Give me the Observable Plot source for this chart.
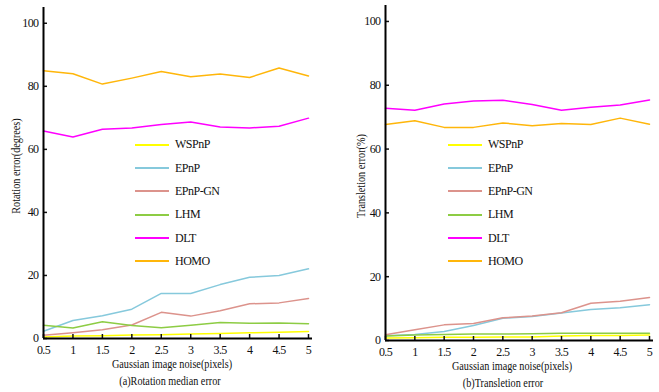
<!DOCTYPE html>
<html><head><meta charset="utf-8">
<script src="https://cdn.jsdelivr.net/npm/d3@7"></script>
<script src="https://cdn.jsdelivr.net/npm/@observablehq/plot@0.6"></script>
<style>
body{margin:0;background:#fff;}
#wrap{position:relative;width:659px;height:392px;font-family:"Liberation Serif","Times New Roman",Times,"DejaVu Serif",serif;color:#111;overflow:hidden;}
.chart{position:absolute;top:0;}
.chart text{font-family:"Liberation Serif","Times New Roman",Times,"DejaVu Serif",serif;}
.txt{position:absolute;white-space:nowrap;font-size:12px;line-height:1;}
.legend{position:absolute;font-size:12px;letter-spacing:-0.5px;}
.legend .row{display:flex;align-items:center;height:23.35px;}
.legend .sw{width:34px;height:2px;margin-right:6px;}
</style>
</head><body>
<div id="wrap"></div>
<script>
const noise = [0.5, 1, 1.5, 2, 2.5, 3, 3.5, 4, 4.5, 5];
const methods = ["WSPnP", "EPnP", "EPnP-GN", "LHM", "DLT", "HOMO"];
const colors = ["#ffff00", "#86c9dc", "#dc938c", "#8dcc44", "#ff00ff", "#ffb60a"];
const xTicks = [0.5, 1, 1.5, 2, 2.5, 3, 3.5, 4, 4.5, 5];
const yTicks = [0, 20, 40, 60, 80, 100];

// (a) Rotation median error (degrees)
const rotWSPnP  = [0.5, 0.8, 0.9, 1.1, 1.2, 1.4, 1.6, 1.8, 2.0, 2.2];
const rotEPnP   = [2.3, 5.7, 7.2, 9.3, 14.3, 14.3, 17.1, 19.4, 20.0, 22.1];
const rotEPnPGN = [1.0, 1.8, 2.8, 4.3, 8.3, 7.1, 8.8, 11.0, 11.3, 12.7];
const rotLHM    = [4.2, 3.3, 5.3, 4.1, 3.4, 4.2, 5.1, 4.8, 4.9, 4.7];
const rotDLT    = [65.8, 63.9, 66.4, 66.8, 67.9, 68.7, 67.1, 66.8, 67.3, 69.9];
const rotHOMO   = [84.9, 84.0, 80.7, 82.6, 84.7, 83.0, 83.9, 82.8, 85.8, 83.3];

// (b) Translation error (%)
const trWSPnP  = [0.8, 0.9, 1.0, 1.0, 1.1, 1.1, 1.4, 1.6, 1.6, 1.7];
const trEPnP   = [1.5, 1.9, 2.8, 4.7, 7.0, 7.5, 8.6, 9.7, 10.3, 11.2];
const trEPnPGN = [1.8, 3.4, 4.9, 5.3, 7.1, 7.7, 8.7, 11.7, 12.3, 13.5];
const trLHM    = [1.4, 1.7, 1.9, 2.0, 2.0, 2.1, 2.3, 2.3, 2.3, 2.3];
const trDLT    = [72.8, 72.2, 74.1, 75.1, 75.3, 74.0, 72.2, 73.1, 73.8, 75.4];
const trHOMO   = [67.7, 68.9, 66.8, 66.8, 68.2, 67.3, 68.0, 67.7, 69.7, 67.8];

function table(series) {
  const rows = [];
  methods.forEach((m, i) => series[i].forEach((v, j) => rows.push({method: m, noise: noise[j], value: v})));
  return rows;
}
const rotData = table([rotWSPnP, rotEPnP, rotEPnPGN, rotLHM, rotDLT, rotHOMO]);
const trData = table([trWSPnP, trEPnP, trEPnPGN, trLHM, trDLT, trHOMO]);

const serif = "'Liberation Serif', 'Times New Roman', Times, 'DejaVu Serif', serif";

function chart(data, opts) {
  return Plot.plot({
    width: opts.width, height: 392,
    marginLeft: opts.ml, marginRight: opts.mr, marginTop: opts.mt, marginBottom: opts.mb,
    style: {fontFamily: serif, fontSize: "12px", background: "transparent", color: "#111", letterSpacing: "-0.6px"},
    x: {domain: [0.5, 5]},
    y: {domain: [0, 105]},
    color: {domain: methods, range: colors},
    marks: [
      Plot.line(data, {x: "noise", y: "value", stroke: "method", strokeWidth: 1.5, curve: "linear"}),
      Plot.axisX(xTicks, {tickSize: -4, tickPadding: 11, label: null, strokeWidth: 1.5, fontFamily: serif, tickFormat: d => String(d)}),
      Plot.axisY(yTicks, {tickSize: -4, tickPadding: 9, label: null, strokeWidth: 1.5, fontFamily: serif}),
      Plot.ruleX([0.5], {strokeWidth: 2, stroke: "#000"}),
      Plot.ruleY([0], {strokeWidth: 2, stroke: "#000", insetRight: -4})
    ]
  });
}

const wrap = document.getElementById("wrap");
const left = chart(rotData, {width: 330, ml: 43, mr: 22, mt: 7, mb: 54});
left.classList.add("chart"); left.style.left = "0px";
const right = chart(trData, {width: 329, ml: 55, mr: 10, mt: 5, mb: 52});
right.classList.add("chart"); right.style.left = "330px";
wrap.appendChild(left); wrap.appendChild(right);

function addText(str, x, y, rotate) {
  const d = document.createElement("div");
  d.className = "txt";
  d.textContent = str;
  d.style.left = x + "px"; d.style.top = y + "px";
  d.style.transform = "translate(-50%,-50%)" + (rotate ? " rotate(-90deg)" : "") + " scaleX(0.85)";
  wrap.appendChild(d);
}
addText("Rotation error(degrees)", 16, 166, true);
addText("Gaussian image noise(pixels)", 172, 364);
addText("(a)Rotation median error", 170, 381);
addText("Transletion error(%)", 361, 176, true);
addText("Gaussian image noise(pixels)", 512, 366);
addText("(b)Transletion error", 503, 383);

function addLegend(x, y) {
  const lg = document.createElement("div");
  lg.className = "legend";
  lg.style.left = x + "px"; lg.style.top = y + "px";
  methods.forEach((m, i) => {
    const r = document.createElement("div"); r.className = "row";
    const s = document.createElement("div"); s.className = "sw"; s.style.background = colors[i];
    const t = document.createElement("span"); t.textContent = m;
    r.appendChild(s); r.appendChild(t); lg.appendChild(r);
  });
  wrap.appendChild(lg);
}
addLegend(135, 133);
addLegend(448, 133);
</script>
</body></html>
